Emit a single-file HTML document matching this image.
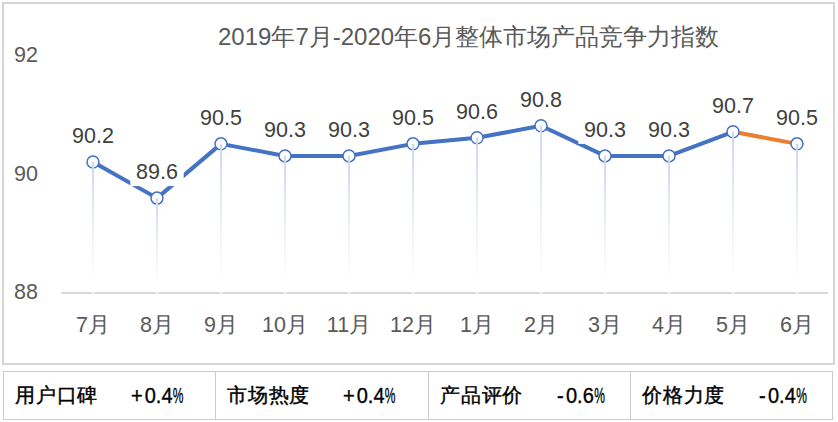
<!DOCTYPE html>
<html><head><meta charset="utf-8"><style>
html,body{margin:0;padding:0;background:#fff;width:838px;height:422px;overflow:hidden;font-family:"Liberation Sans",sans-serif;}
.box{position:absolute;left:2px;top:2px;width:829px;height:359px;border:2px solid #d6d6d6;}
svg{position:absolute;left:0;top:0;}
.ax{font-size:21.5px;fill:#595959;}
.lb{font-size:21.5px;fill:#404040;}
.ti{font-size:24px;fill:#595959;}
.tbl{position:absolute;left:3px;top:371px;width:828px;height:47px;border:1px solid #cbcbcb;}
.c{position:absolute;top:0;height:47px;border-left:1px solid #cbcbcb;}
.t{position:absolute;color:#000;white-space:nowrap;line-height:22px;}
.k{font-size:20px;letter-spacing:0.6px;font-weight:500;-webkit-text-stroke:0.4px #000;}
.v{font-size:21.5px;transform:scaleX(0.93);transform-origin:0 0;-webkit-text-stroke:0.35px #000;}
.pc{display:inline-block;transform:scaleX(0.6);transform-origin:0 0;}
</style></head><body>
<div class="box"></div>
<svg width="838" height="422" viewBox="0 0 838 422">
<text x="218" y="45" class="ti">2019年7月-2020年6月整体市场产品竞争力指数</text>
<defs><linearGradient id="dg" x1="0" y1="0" x2="0" y2="1"><stop offset="0" stop-color="#c8d7f0"/><stop offset="0.4" stop-color="#e6edf8"/><stop offset="0.92" stop-color="#ffffff"/></linearGradient></defs>
<rect x="61" y="292" width="767" height="2" fill="#d9d9d9"/>
<text x="26" y="62.0" text-anchor="middle" class="ax">92</text>
<text x="26" y="181.2" text-anchor="middle" class="ax">90</text>
<text x="26" y="299.2" text-anchor="middle" class="ax">88</text>
<text x="93" y="331.5" text-anchor="middle" class="ax">7月</text>
<text x="157" y="331.5" text-anchor="middle" class="ax">8月</text>
<text x="221" y="331.5" text-anchor="middle" class="ax">9月</text>
<text x="285" y="331.5" text-anchor="middle" class="ax">10月</text>
<text x="349" y="331.5" text-anchor="middle" class="ax">11月</text>
<text x="413" y="331.5" text-anchor="middle" class="ax">12月</text>
<text x="477" y="331.5" text-anchor="middle" class="ax">1月</text>
<text x="541" y="331.5" text-anchor="middle" class="ax">2月</text>
<text x="605" y="331.5" text-anchor="middle" class="ax">3月</text>
<text x="669" y="331.5" text-anchor="middle" class="ax">4月</text>
<text x="733" y="331.5" text-anchor="middle" class="ax">5月</text>
<text x="797" y="331.5" text-anchor="middle" class="ax">6月</text>
<path d="M93,161.94 L157,198.12 L221,143.85 L285,155.91 L349,155.91 L413,143.85 L477,137.82 L541,125.76 L605,155.91 L669,155.91 L733,131.79" fill="none" stroke="#4472c4" stroke-width="4" stroke-linejoin="round"/>
<path d="M733,131.79 L797,143.85" fill="none" stroke="#ed7d31" stroke-width="4"/>
<rect x="66.3" y="118.9" width="53.4" height="31" fill="#fff"/>
<text x="93" y="142.9" text-anchor="middle" class="lb">90.2</text>
<rect x="130.3" y="155.1" width="53.4" height="31" fill="#fff"/>
<text x="157" y="179.1" text-anchor="middle" class="lb">89.6</text>
<rect x="194.3" y="100.9" width="53.4" height="31" fill="#fff"/>
<text x="221" y="124.9" text-anchor="middle" class="lb">90.5</text>
<rect x="258.3" y="112.9" width="53.4" height="31" fill="#fff"/>
<text x="285" y="136.9" text-anchor="middle" class="lb">90.3</text>
<rect x="322.3" y="112.9" width="53.4" height="31" fill="#fff"/>
<text x="349" y="136.9" text-anchor="middle" class="lb">90.3</text>
<rect x="386.3" y="100.9" width="53.4" height="31" fill="#fff"/>
<text x="413" y="124.9" text-anchor="middle" class="lb">90.5</text>
<rect x="450.3" y="94.8" width="53.4" height="31" fill="#fff"/>
<text x="477" y="118.8" text-anchor="middle" class="lb">90.6</text>
<rect x="514.3" y="82.8" width="53.4" height="31" fill="#fff"/>
<text x="541" y="106.8" text-anchor="middle" class="lb">90.8</text>
<rect x="578.3" y="112.9" width="53.4" height="31" fill="#fff"/>
<text x="605" y="136.9" text-anchor="middle" class="lb">90.3</text>
<rect x="642.3" y="112.9" width="53.4" height="31" fill="#fff"/>
<text x="669" y="136.9" text-anchor="middle" class="lb">90.3</text>
<rect x="706.3" y="88.8" width="53.4" height="31" fill="#fff"/>
<text x="733" y="112.8" text-anchor="middle" class="lb">90.7</text>
<rect x="770.3" y="100.9" width="53.4" height="31" fill="#fff"/>
<text x="797" y="124.9" text-anchor="middle" class="lb">90.5</text>
<circle cx="93" cy="161.94" r="6" fill="#fff" stroke="#4472c4" stroke-width="1.5"/>
<circle cx="157" cy="198.12" r="6" fill="#fff" stroke="#4472c4" stroke-width="1.5"/>
<circle cx="221" cy="143.85" r="6" fill="#fff" stroke="#4472c4" stroke-width="1.5"/>
<circle cx="285" cy="155.91" r="6" fill="#fff" stroke="#4472c4" stroke-width="1.5"/>
<circle cx="349" cy="155.91" r="6" fill="#fff" stroke="#4472c4" stroke-width="1.5"/>
<circle cx="413" cy="143.85" r="6" fill="#fff" stroke="#4472c4" stroke-width="1.5"/>
<circle cx="477" cy="137.82" r="6" fill="#fff" stroke="#4472c4" stroke-width="1.5"/>
<circle cx="541" cy="125.76" r="6" fill="#fff" stroke="#4472c4" stroke-width="1.5"/>
<circle cx="605" cy="155.91" r="6" fill="#fff" stroke="#4472c4" stroke-width="1.5"/>
<circle cx="669" cy="155.91" r="6" fill="#fff" stroke="#4472c4" stroke-width="1.5"/>
<circle cx="733" cy="131.79" r="6" fill="#fff" stroke="#4472c4" stroke-width="1.5"/>
<circle cx="797" cy="143.85" r="6" fill="#fff" stroke="#4472c4" stroke-width="1.5"/>
<rect x="92" y="161.9" width="2" height="131.6" fill="url(#dg)"/>
<rect x="156" y="198.1" width="2" height="95.4" fill="url(#dg)"/>
<rect x="220" y="143.9" width="2" height="149.6" fill="url(#dg)"/>
<rect x="284" y="155.9" width="2" height="137.6" fill="url(#dg)"/>
<rect x="348" y="155.9" width="2" height="137.6" fill="url(#dg)"/>
<rect x="412" y="143.9" width="2" height="149.6" fill="url(#dg)"/>
<rect x="476" y="137.8" width="2" height="155.7" fill="url(#dg)"/>
<rect x="540" y="125.8" width="2" height="167.7" fill="url(#dg)"/>
<rect x="604" y="155.9" width="2" height="137.6" fill="url(#dg)"/>
<rect x="668" y="155.9" width="2" height="137.6" fill="url(#dg)"/>
<rect x="732" y="131.8" width="2" height="161.7" fill="url(#dg)"/>
<rect x="796" y="143.9" width="2" height="149.6" fill="url(#dg)"/>
</svg>
<div class="tbl">
<div class="c" style="left:211px"></div>
<div class="c" style="left:424px"></div>
<div class="c" style="left:626px"></div>
</div>
<div class="t k" style="left:15.4px;top:384px">用户口碑</div>
<div class="t v" style="left:130.5px;top:384.5px"><span style="margin-right:2.2px">+</span>0.4<span class="pc">%</span></div>
<div class="t k" style="left:227.4px;top:384px">市场热度</div>
<div class="t v" style="left:342.5px;top:384.5px"><span style="margin-right:2.2px">+</span>0.4<span class="pc">%</span></div>
<div class="t k" style="left:440.4px;top:384px">产品评价</div>
<div class="t v" style="left:557.0px;top:384.5px"><span style="margin-right:2.5px">-</span>0.6<span class="pc">%</span></div>
<div class="t k" style="left:642.4px;top:384px">价格力度</div>
<div class="t v" style="left:759.0px;top:384.5px"><span style="margin-right:2.5px">-</span>0.4<span class="pc">%</span></div>
</body></html>
